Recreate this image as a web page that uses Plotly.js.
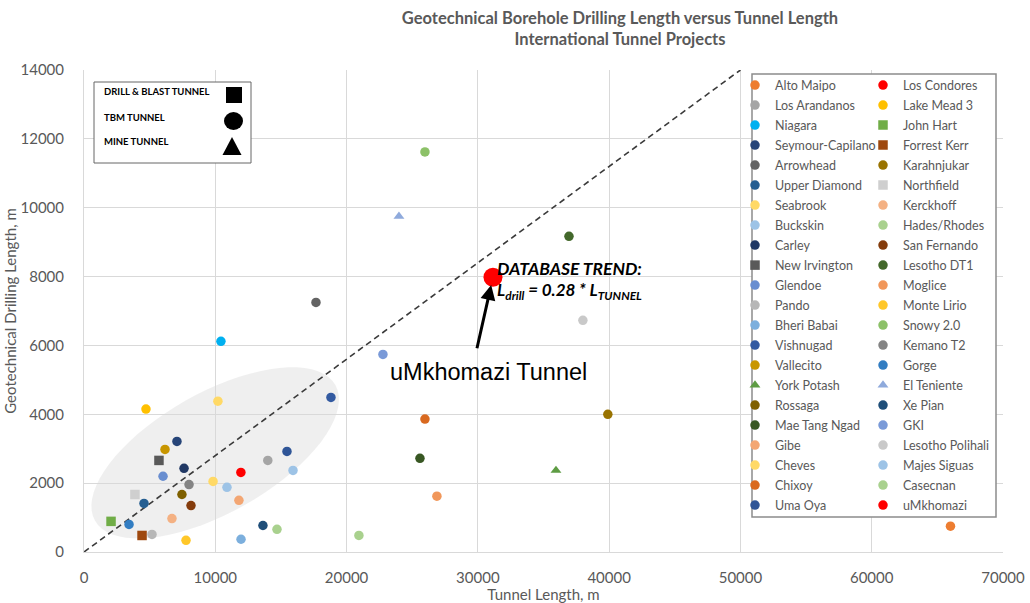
<!DOCTYPE html>
<html><head><meta charset="utf-8">
<script src="https://cdn.plot.ly/plotly-3.0.1.min.js"></script>
<style>html,body{margin:0;padding:0;background:#fff}#chart{width:1030px;height:603px}</style>
</head><body><div id="chart"></div>
<script>
// ---- data (legend order) ----
const projects = ["Alto Maipo","Los Condores","Los Arandanos","Lake Mead 3","Niagara","John Hart",
  "Seymour-Capilano","Forrest Kerr","Arrowhead","Karahnjukar","Upper Diamond","Northfield",
  "Seabrook","Kerckhoff","Buckskin","Hades/Rhodes","Carley","San Fernando","New Irvington",
  "Lesotho DT1","Glendoe","Moglice","Pando","Monte Lirio","Bheri Babai","Snowy 2.0","Vishnugad",
  "Kemano T2","Vallecito","Gorge","York Potash","El Teniente","Rossaga","Xe Pian","Mae Tang Ngad",
  "GKI","Gibe","Lesotho Polihali","Cheves","Majes Siguas","Chixoy","Casecnan","Uma Oya","uMkhomazi"];
const tunnelLength = [66000,11950,14000,4720,10430,2060,
  7080,4420,17670,39900,4570,3880,
  10200,6700,10890,14700,7620,8150,5710,
  36940,6020,26880,5180,7770,11960,25970,18810,
  8000,6170,3430,35950,23990,7460,13630,25590,
  22770,11800,38000,9830,15920,25970,20940,15460,31150];
const drillLength = [750,2310,2660,4150,6120,890,
  3210,480,7250,4000,1410,1670,
  4380,970,1880,660,2430,1350,2660,
  9170,2200,1620,510,340,370,11620,4490,
  1960,2980,800,2370,9750,1670,770,2720,
  5740,1500,6730,2050,2370,3860,480,2920,7980];
const colors = ["#ED7D31","#FF0000","#A5A5A5","#FFC000","#00B0F0","#70AD47",
  "#264478","#9E480E","#636363","#997300","#255E91","#CFCFCF",
  "#FFD966","#F4B183","#9DC3E6","#A9D18E","#203864","#843C0C","#595959",
  "#43682B","#698ED0","#F1975A","#B7B7B7","#FFC729","#7CAFDD","#8CC168","#335AA1",
  "#848484","#C89600","#327DC2","#5E9C44","#8FAADC","#7F6000","#1F4E79","#385723",
  "#7A9AD8","#F3A673","#C9C9C9","#FFD966","#9DC3E6","#D9691F","#A9D18E","#2F5597","#FF0000"];
const symbols = ["circle","circle","circle","circle","circle","square",
  "circle","square","circle","circle","circle","square",
  "circle","circle","circle","circle","circle","circle","square",
  "circle","circle","circle","circle","circle","circle","circle","circle",
  "circle","circle","circle","triangle-up","triangle-up","circle","circle","circle",
  "circle","circle","circle","circle","circle","circle","circle","circle","circle"];
const highlight = "uMkhomazi";
const trendX = [0, 50000];
const trendY = [0, 14000];
const xTicks = [0,10000,20000,30000,40000,50000,60000,70000];
const yTicks = [0,2000,4000,6000,8000,10000,12000,14000];
const tunnelTypes = ["DRILL & BLAST TUNNEL","TBM TUNNEL","MINE TUNNEL"];

// ---- layout helpers ----
const W = 1030, H = 603, ML = 84, MR = 27, MT = 70, MB = 51;
const PW = W - ML - MR, PH = H - MT - MB;
const px = p => (p - ML) / PW;
const py = p => (H - MB - p) / PH;
const FONT = "Lato, 'Open Sans', sans-serif";
const GREY = "#595959";

const traces = [];
traces.push({type:"scatter", mode:"lines", x:trendX, y:trendY, showlegend:false, hoverinfo:"skip",
  line:{color:"#3a3a3a", width:1.6, dash:"6px,4px"}});
projects.forEach((name, i) => {
  traces.push({type:"scatter", mode:"markers", name:name, x:[tunnelLength[i]], y:[drillLength[i]],
    legend: i % 2 === 0 ? "legend" : "legend2", legendgroup:name,
    marker:{color:colors[i], symbol:symbols[i], size:9.5, line:{width:0}}});
});
const hi = projects.indexOf(highlight);
traces.push({type:"scatter", mode:"markers", name:highlight, x:[tunnelLength[hi]], y:[drillLength[hi]],
  showlegend:false, marker:{color:colors[hi], size:19, line:{width:0}}});

// ellipse (decoration) in pixel space -> data units
const xPerPx = (xTicks[xTicks.length-1]-xTicks[0]) / PW;
const yPerPx = (yTicks[yTicks.length-1]-yTicks[0]) / PH;
function ellipsePath(cx, cy, a, b, deg) {
  const th = deg * Math.PI / 180; let d = "";
  for (let k = 0; k <= 72; k++) {
    const t = 2 * Math.PI * k / 72;
    const dx = a*Math.cos(t)*Math.cos(th) - b*Math.sin(t)*Math.sin(th);
    const dy = a*Math.cos(t)*Math.sin(th) + b*Math.sin(t)*Math.cos(th);
    d += (k === 0 ? "M" : "L") + (cx + dx*xPerPx).toFixed(1) + "," + (cy + dy*yPerPx).toFixed(1);
  }
  return d + "Z";
}

const shapes = [
  {type:"path", xref:"x", yref:"y", path:ellipsePath(9990, 2880, 138, 60, 29.4),
   fillcolor:"rgba(205,205,205,0.32)", line:{width:0}, layer:"below"},
  // legend frame
  {type:"rect", xref:"paper", yref:"paper", x0:px(752), x1:px(996), y0:py(517), y1:py(74),
   fillcolor:"#ffffff", line:{color:"#8c8c8c", width:1.5}, layer:"above"},
  // tunnel type key frame
  {type:"rect", xref:"paper", yref:"paper", x0:px(94), x1:px(251), y0:py(163), y1:py(82),
   fillcolor:"#ffffff", line:{color:"#666666", width:1}, layer:"above"},
  {type:"rect", xref:"paper", yref:"paper", x0:px(226), x1:px(242), y0:py(103), y1:py(87),
   fillcolor:"#000", line:{width:0}, layer:"above"},
  {type:"circle", xref:"paper", yref:"paper", x0:px(224), x1:px(243), y0:py(130), y1:py(112),
   fillcolor:"#000", line:{width:0}, layer:"above"},
  {type:"path", xref:"paper", yref:"paper",
   path:`M${px(232)},${py(137)} L${px(241.5)},${py(155)} L${px(222.5)},${py(155)} Z`,
   fillcolor:"#000", line:{width:0}, layer:"above"}
];

const annotations = [
  {xref:"paper", yref:"paper", x:px(102), y:py(92), xanchor:"left", yanchor:"middle", showarrow:false,
   text:"<b>"+tunnelTypes[0]+"</b>", font:{family:FONT, size:9.5, color:"#000"}},
  {xref:"paper", yref:"paper", x:px(102), y:py(117), xanchor:"left", yanchor:"middle", showarrow:false,
   text:"<b>"+tunnelTypes[1]+"</b>", font:{family:FONT, size:9.5, color:"#000"}},
  {xref:"paper", yref:"paper", x:px(102), y:py(141), xanchor:"left", yanchor:"middle", showarrow:false,
   text:"<b>"+tunnelTypes[2]+"</b>", font:{family:FONT, size:9.5, color:"#000"}},
  {xref:"paper", yref:"paper", x:px(495), y:py(268), xanchor:"left", yanchor:"middle", showarrow:false,
   text:"<b><i>DATABASE TREND:</i></b>", font:{family:FONT, size:17.5, color:"#000"}},
  {xref:"paper", yref:"paper", x:px(495), y:py(291), xanchor:"left", yanchor:"middle", showarrow:false,
   text:"<b><i>L<sub>drill</sub> = 0.28 * L<sub>TUNNEL</sub></i></b>", font:{family:FONT, size:17, color:"#000"}},
  {xref:"x", yref:"y", x:tunnelLength[hi], y:drillLength[hi], ax:-18, ay:80, text:" ",
   showarrow:true, arrowhead:2, arrowsize:1, arrowwidth:3, arrowcolor:"#000", standoff:8},
  {xref:"paper", yref:"paper", x:px(488), y:py(372), xanchor:"center", yanchor:"middle", showarrow:false,
   text:"uMkhomazi Tunnel", font:{family:"Liberation Sans, Arial, sans-serif", size:23.5, color:"#000"}}
];

const axisCommon = {showgrid:true, gridcolor:"#D9D9D9", gridwidth:1, zeroline:false,
  showline:true, linecolor:"#D9D9D9", linewidth:1, ticks:"outside", tickcolor:"rgba(0,0,0,0)",
  tickformat:"d", tickfont:{family:FONT, size:15, color:GREY}, fixedrange:true};

const layout = {
  width:W, height:H, margin:{l:ML, r:MR, t:MT, b:MB}, paper_bgcolor:"#fff", plot_bgcolor:"#fff",
  font:{family:FONT, color:GREY},
  title:{text:"<b>Geotechnical Borehole Drilling Length versus Tunnel Length</b><br><b>International Tunnel Projects</b>",
    x:620/W, xanchor:"center", y:1-24/H, yanchor:"top", font:{family:FONT, size:16.5, color:GREY}},
  xaxis:Object.assign({}, axisCommon, {range:[xTicks[0], xTicks[xTicks.length-1]], tickvals:xTicks, ticklen:12,
    title:{text:"Tunnel Length, m", standoff:2, font:{family:FONT, size:15, color:GREY}}}),
  yaxis:Object.assign({}, axisCommon, {range:[yTicks[0], yTicks[yTicks.length-1]], tickvals:yTicks, ticklen:16,
    title:{text:"Geotechnical Drilling Length, m", standoff:0, font:{family:FONT, size:15, color:GREY}}}),
  legend:{x:px(735), y:0.999, xanchor:"left", yanchor:"top", bgcolor:"rgba(0,0,0,0)", borderwidth:0,
    tracegroupgap:0.75, font:{family:FONT, size:12.5, color:GREY}},
  legend2:{x:px(863), y:0.999, xanchor:"left", yanchor:"top", bgcolor:"rgba(0,0,0,0)", borderwidth:0,
    tracegroupgap:0.75, font:{family:FONT, size:12.5, color:GREY}},
  shapes:shapes, annotations:annotations, showlegend:true
};

Plotly.newPlot("chart", traces, layout, {displayModeBar:false, staticPlot:true});
</script></body></html>
